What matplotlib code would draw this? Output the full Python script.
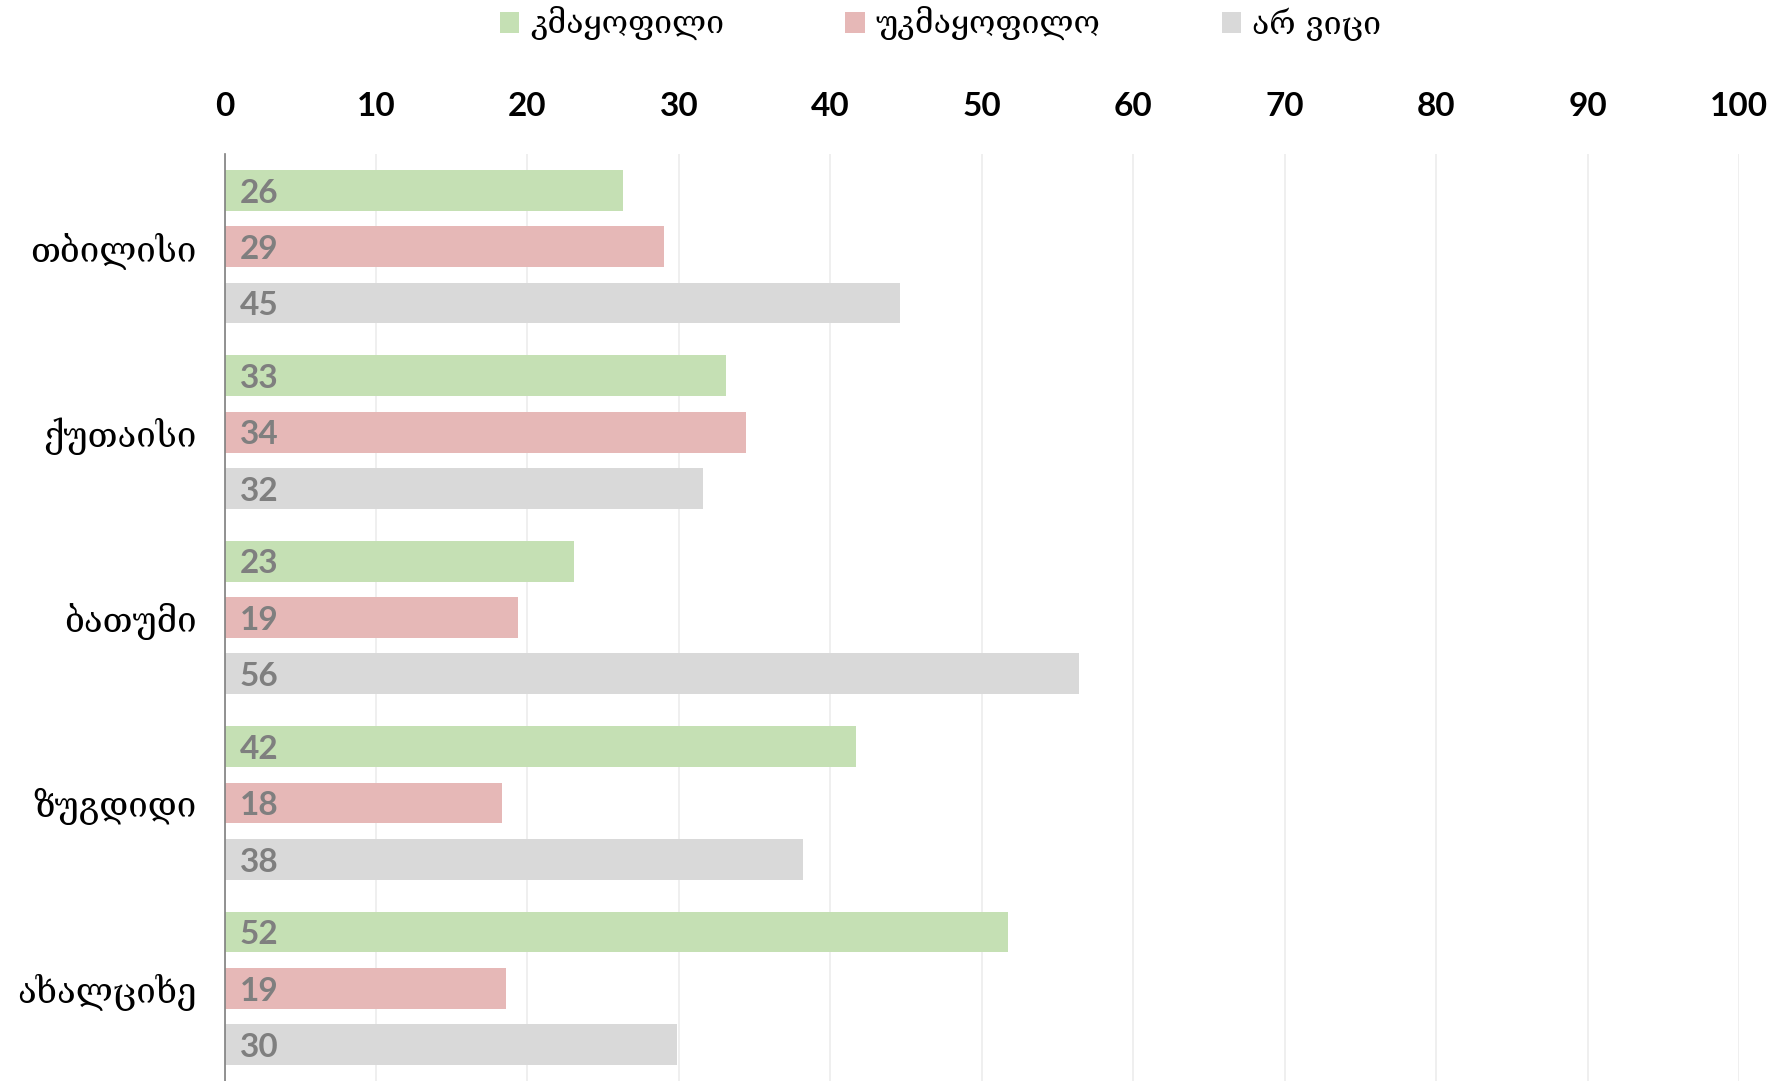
import numpy as np
import matplotlib.pyplot as plt
from matplotlib.patches import Patch

cities = ['თბილისი', 'ქუთაისი', 'ბათუმი', 'ზუგდიდი', 'ახალციხე']
series_names = ['კმაყოფილი', 'უკმაყოფილო', 'არ ვიცი']
satisfied = [26.3, 33.1, 23.1, 41.7, 51.7]
unsatisfied = [29.0, 34.4, 19.4, 18.3, 18.6]
dont_know = [44.6, 31.6, 56.4, 38.2, 29.9]
colors = ['#c5e0b4', '#e6b8b7', '#d9d9d9']
xticks = list(range(0, 101, 10))

geo_font = ['DejaVu Serif', 'DejaVu Sans']
num_font = ['Lato', 'DejaVu Sans']

fig = plt.figure(figsize=(17.88, 10.81), dpi=100)
ax = fig.add_axes([0.1256, 0.0, 0.847, 0.8575])

y = np.arange(len(cities))
offset = 0.304
height = 0.22
for i, (vals, col) in enumerate(zip([satisfied, unsatisfied, dont_know], colors)):
    pos = y + (i - 1) * offset
    ax.barh(pos, vals, height=height, color=col, zorder=2)
    for p, v in zip(pos, vals):
        ax.text(1.0, p + 0.015, f'{round(v)}', va='center', ha='left', fontsize=24,
                fontweight='bold', color='#7f7f7f', family=num_font, zorder=3)

ax.set_xlim(0, 100)
ax.set_ylim(len(cities) - 0.5, -0.5)
ax.xaxis.tick_top()
ax.set_xticks(xticks)
ax.set_xticklabels([str(t) for t in xticks], fontsize=24, fontweight='bold', family=num_font)
ax.tick_params(axis='x', length=0, pad=24)
ax.set_yticks(y)
ax.set_yticklabels(cities, fontsize=25, family=geo_font)
ax.tick_params(axis='y', length=0, pad=20)
ax.grid(axis='x', color='#ececec', linewidth=1.2, zorder=0)
for s in ['top', 'right', 'bottom']:
    ax.spines[s].set_visible(False)
ax.spines['left'].set_color('#7f7f7f')
ax.spines['left'].set_linewidth(1.2)

handles = [Patch(facecolor=c, edgecolor='none') for c in colors]
fig.legend(handles, series_names, loc='center', bbox_to_anchor=(0.526, 0.978), ncol=3,
           frameon=False, prop={'family': geo_font, 'size': 23}, handlelength=0.6,
           handleheight=0.6, handletextpad=0.35, columnspacing=3.8)

fig.savefig('out.png', dpi=100)
